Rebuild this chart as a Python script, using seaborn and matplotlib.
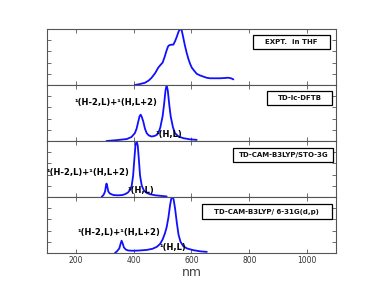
import matplotlib
matplotlib.use("Agg")
import matplotlib.pyplot as plt
from matplotlib.patches import Rectangle
import seaborn as sns

# spectra (wavelength in nm, normalised intensity)
expt_nm = [404, 420, 439, 452, 462, 474, 485, 493, 500, 507, 514, 519, 523, 530, 537,
           543, 549, 555, 560, 566, 571, 577, 583, 589, 595, 601, 610, 618, 630, 641,
           652, 664, 680, 699, 715, 727, 737, 745]
expt_int = [0.0, 0.015, 0.04, 0.08, 0.13, 0.21, 0.31, 0.36, 0.40, 0.50, 0.62, 0.69, 0.71,
            0.72, 0.72, 0.78, 0.86, 0.95, 1.0, 0.98, 0.86, 0.71, 0.58, 0.47, 0.38, 0.31,
            0.25, 0.20, 0.17, 0.15, 0.13, 0.12, 0.12, 0.12, 0.125, 0.13, 0.12, 0.10]

dftb_nm = [306, 340, 376, 392, 404, 410, 416, 420, 424, 428, 433, 439, 445, 452, 462,
           472, 480, 485, 492, 500, 505, 510, 514, 518, 523, 528, 536, 543, 555, 572,
           595, 618]
dftb_int = [0.0, 0.015, 0.035, 0.07, 0.14, 0.22, 0.35, 0.44, 0.47, 0.43, 0.35, 0.22, 0.14,
            0.10, 0.08, 0.09, 0.11, 0.14, 0.24, 0.44, 0.65, 0.90, 1.0, 0.90, 0.65, 0.44,
            0.24, 0.14, 0.08, 0.05, 0.03, 0.02]

sto_nm = [289, 296, 301, 304, 306, 309, 312, 318, 330, 345, 360, 370, 380, 388, 393,
          398, 402, 406, 410, 414, 418, 422, 428, 436, 446, 456, 475, 495, 514]
sto_int = [0.0, 0.04, 0.10, 0.20, 0.24, 0.18, 0.10, 0.06, 0.035, 0.03, 0.035, 0.05, 0.08,
           0.13, 0.20, 0.38, 0.66, 0.92, 1.0, 0.92, 0.66, 0.38, 0.20, 0.11, 0.07, 0.05,
           0.03, 0.02, 0.01]

g631_nm = [335, 342, 350, 355, 358, 362, 366, 373, 381, 400, 420, 445, 465, 480, 491,
           500, 508, 514, 520, 526, 530, 534, 538, 543, 549, 555, 562, 572, 585, 607,
           630, 653]
g631_int = [0.0, 0.03, 0.08, 0.17, 0.22, 0.17, 0.10, 0.06, 0.045, 0.04, 0.045, 0.055,
            0.075, 0.11, 0.16, 0.24, 0.35, 0.46, 0.63, 0.86, 0.97, 1.0, 0.96, 0.80, 0.55,
            0.33, 0.20, 0.12, 0.08, 0.05, 0.03, 0.02]

panel_titles = ["EXPT.  in THF", "TD-lc-DFTB", "TD-CAM-B3LYP/STO-3G",
                "TD-CAM-B3LYP/ 6-31G(d,p)"]
band_hl2 = "\u00b9(H-2,L)+\u00b9(H,L+2)"
band_hl = "\u00b9(H,L)"

sns.set_style("ticks")
plt.rcParams['font.family'] = ['DejaVu Sans']

fig, axes = plt.subplots(4, 1, sharex=True, figsize=(3.74, 2.81), dpi=100)
fig.subplots_adjust(left=47/374, right=336/374, top=1-29/281, bottom=1-253/281, hspace=0)

series = [(expt_nm, expt_int), (dftb_nm, dftb_int), (sto_nm, sto_int), (g631_nm, g631_int)]
# box rectangles in axes fraction (x0, y0, w, h)
boxes = [(0.712, 0.642, 0.267, 0.255), (0.760, 0.643, 0.227, 0.255),
         (0.645, 0.630, 0.346, 0.240), (0.535, 0.609, 0.450, 0.263)]

label_font = dict(family='Liberation Sans Narrow', fontweight='bold')

for ax, (x, y), title, (bx, by, bw, bh) in zip(axes, series, panel_titles, boxes):
    sns.lineplot(x=x, y=y, ax=ax, color='#1010ff', lw=1.3, sort=False)
    ax.set_ylim(0, 1.0)
    ax.set_xlim(100, 1100)
    ax.set_yticks([0.2, 0.4, 0.6, 0.8])
    ax.set_yticklabels([])
    ax.set_xticks([200, 400, 600, 800, 1000])
    ax.tick_params(direction='in', length=3, width=0.6, color='#555555',
                   top=True, right=True, labelsize=5.5, labelcolor='#333333', pad=2)
    for s in ax.spines.values():
        s.set_color('#555555')
        s.set_linewidth(0.8)
    ax.add_patch(Rectangle((bx, by), bw, bh, transform=ax.transAxes, fill=True,
                           facecolor='white', edgecolor='black', lw=0.9, clip_on=False))
    ax.text(bx + bw/2, by + bh/2, title, transform=ax.transAxes, ha='center', va='center',
            fontsize=5.0, color='#111111', **label_font)
    ax.set_ylabel('')

# band assignments
ann = [(1, 197, 0.69, band_hl2), (1, 474, 0.11, band_hl),
       (2, 100, 0.44, band_hl2), (2, 377, 0.125, band_hl),
       (3, 207, 0.36, band_hl2), (3, 491, 0.09, band_hl)]
for i, xt, yt, s in ann:
    axes[i].text(xt, yt, s, ha='left', va='center', fontsize=6.0, color='#000000',
                 **label_font)

axes[3].set_xlabel('nm', fontsize=9, color='#444444', labelpad=1)

plt.savefig('out.png', dpi=100)
